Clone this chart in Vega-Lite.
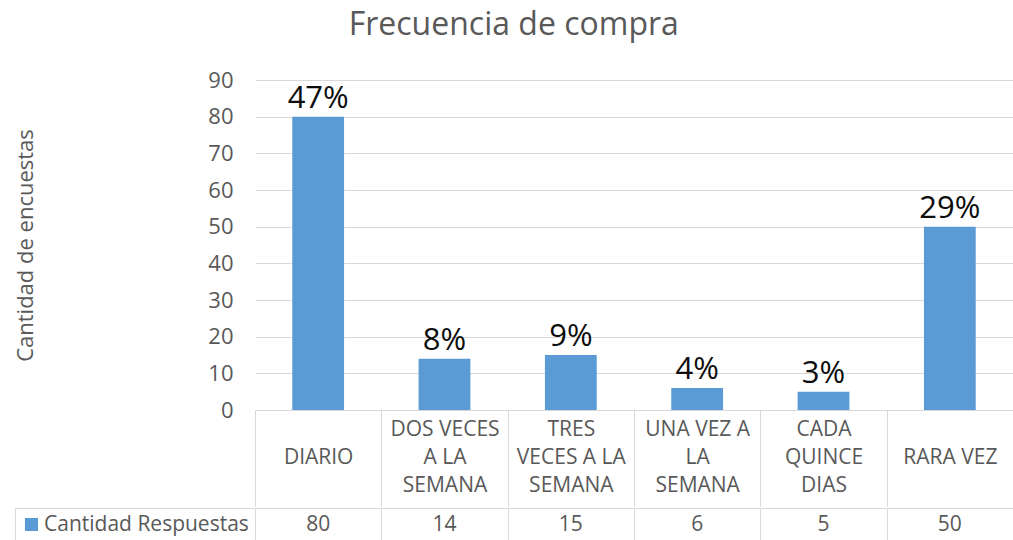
{
  "$schema": "https://vega.github.io/schema/vega-lite/v6.json",
  "padding": {"left": 13, "top": 9, "right": 0, "bottom": 0},
  "background": "white",
  "config": {"view": {"stroke": null}, "font": "Open Sans"},
  "title": {"text": "Frecuencia de compra", "fontSize": 32, "font": "Open Sans", "fontWeight": "normal", "color": "#595959", "anchor": "middle", "offset": 27},
  "datasets": {
    "frecuencia": [
      {"cat": "DIARIO", "n": 80, "pct": "47%", "serie": "Cantidad Respuestas"},
      {"cat": "DOS VECES A LA SEMANA", "n": 14, "pct": "8%", "serie": "Cantidad Respuestas"},
      {"cat": "TRES VECES A LA SEMANA", "n": 15, "pct": "9%", "serie": "Cantidad Respuestas"},
      {"cat": "UNA VEZ A LA SEMANA", "n": 6, "pct": "4%", "serie": "Cantidad Respuestas"},
      {"cat": "CADA QUINCE DIAS", "n": 5, "pct": "3%", "serie": "Cantidad Respuestas"},
      {"cat": "RARA VEZ", "n": 50, "pct": "29%", "serie": "Cantidad Respuestas"}
    ]
  },
  "data": {"name": "frecuencia"},
  "spacing": 0,
  "resolve": {"scale": {"color": "independent"}, "legend": {"color": "independent"}},
  "vconcat": [
    {
      "width": 758,
      "height": 330,
      "encoding": {
        "x": {
          "field": "cat", "type": "nominal", "sort": null,
          "scale": {"paddingInner": 0, "paddingOuter": 0},
          "axis": {
            "title": null, "orient": "bottom", "grid": false,
            "tickBand": "extent", "tickSize": 96, "tickColor": "#d9d9d9", "tickWidth": 1,
            "domainColor": "#d9d9d9", "domainWidth": 1,
            "labelAngle": 0, "labelBaseline": "middle", "labelPadding": -77,
            "labelFontSize": 21, "labelColor": "#595959", "labelFont": "Open Sans",
            "labelLineHeight": 28, "labelOverlap": false, "labelLimit": 0,
            "labelExpr": "datum.label == 'DOS VECES A LA SEMANA' ? ['DOS VECES', 'A LA', 'SEMANA'] : datum.label == 'TRES VECES A LA SEMANA' ? ['TRES', 'VECES A LA', 'SEMANA'] : datum.label == 'UNA VEZ A LA SEMANA' ? ['UNA VEZ A', 'LA', 'SEMANA'] : datum.label == 'CADA QUINCE DIAS' ? ['CADA', 'QUINCE', 'DIAS'] : [' ', datum.label, ' ']"
          }
        },
        "y": {
          "field": "n", "type": "quantitative",
          "scale": {"domain": [0, 90], "nice": false},
          "axis": {
            "title": "Cantidad de encuestas",
            "titleFontSize": 22, "titleFont": "Open Sans", "titleFontWeight": "normal", "titleColor": "#595959",
            "titleX": -230, "titleY": 165, "titleAngle": -90, "titleAlign": "center", "titleBaseline": "middle",
            "values": [0, 10, 20, 30, 40, 50, 60, 70, 80, 90],
            "ticks": false, "domain": false, "labelOverlap": false,
            "grid": true, "gridColor": "#d9d9d9", "gridWidth": 1,
            "labelFontSize": 22, "labelColor": "#595959", "labelPadding": 22, "labelFont": "Open Sans"
          }
        }
      },
      "layer": [
        {
          "mark": {"type": "bar", "color": "#5b9bd5", "width": {"band": 0.41}}
        },
        {
          "mark": {"type": "text", "baseline": "bottom", "dy": -2, "fontSize": 31, "color": "#0d0d0d", "font": "Open Sans"},
          "encoding": {
            "text": {"field": "pct"}
          }
        }
      ]
    },
    {
      "width": 758,
      "height": 34,
      "encoding": {
        "x": {
          "field": "cat", "type": "nominal", "sort": null,
          "scale": {"paddingInner": 0, "paddingOuter": 0},
          "axis": {
            "title": null, "orient": "top", "labels": false, "ticks": false,
            "tickBand": "extent",
            "grid": true, "gridColor": "#d9d9d9", "gridWidth": 1,
            "domain": true, "domainColor": "#d9d9d9", "domainWidth": 1
          }
        }
      },
      "layer": [
        {
          "mark": {"type": "text", "fontSize": 21, "color": "#595959", "font": "Open Sans"},
          "encoding": {
            "text": {"field": "n"}
          }
        },
        {
          "mark": {"type": "square", "opacity": 0},
          "encoding": {
            "color": {
              "field": "serie", "type": "nominal",
              "scale": {"range": ["#5b9bd5"]},
              "legend": {
                "orient": "left", "title": null, "offset": 0, "padding": 6,
                "strokeColor": "#d9d9d9", "fillColor": "white",
                "symbolType": "square", "symbolSize": 169, "symbolOpacity": 1,
                "symbolFillColor": "#5b9bd5", "symbolStrokeWidth": 0,
                "labelFontSize": 21, "labelFont": "Open Sans", "labelColor": "#595959",
                "labelOffset": 2, "labelLimit": 0
              }
            }
          }
        }
      ]
    }
  ]
}
